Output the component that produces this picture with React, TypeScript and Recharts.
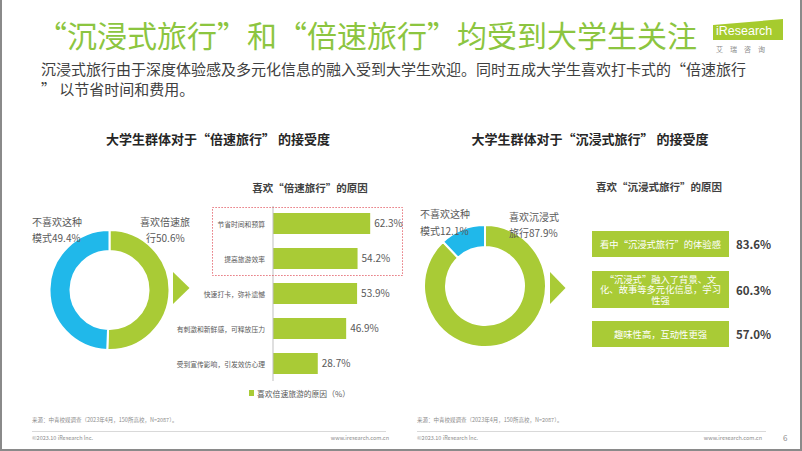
import React from 'react';
import { BarChart, Bar, XAxis, YAxis, LabelList, PieChart, Pie, Cell } from 'recharts';

const speedShare = [
  { name: '喜欢倍速旅行', value: 50.6 },
  { name: '不喜欢这种模式', value: 49.4 },
];
const immersiveShare = [
  { name: '喜欢沉浸式旅行', value: 87.9 },
  { name: '不喜欢这种模式', value: 12.1 },
];
const speedReasons = [
  '节省时间和预算',
  '提高旅游效率',
  '快速打卡，弥补遗憾',
  '有刺激和新鲜感，可释放压力',
  '受到宣传影响，引发效仿心理',
];
const speedValues = [62.3, 54.2, 53.9, 46.9, 28.7];
const immersiveReasons = [
  '看中“沉浸式旅行”的体验感',
  ' “沉浸式”融入了背景、文\n化、故事等多元化信息，学习\n性强',
  '趣味性高，互动性更强',
];
const immersiveValues = [83.6, 60.3, 57.0];

const GREEN = '#A9CB36';
const BLUE = '#20B8EA';
const TITLE_GREEN = '#8CC540';
const FONT = '"Noto Sans CJK SC", "Noto Sans", sans-serif';

const barData = speedReasons.map((r, i) => ({ reason: r, value: speedValues[i] }));

const boxTops = [231, 271, 321];
const boxHeights = [26, 37, 26];

const YTick = (p: any) => (
  <text x={p.x} y={p.y} textAnchor="end" dominantBaseline="central" fontSize={6.8} fill="#595959" fontFamily={FONT}>
    {p.payload.value}
  </text>
);

export default function App() {
  return (
    <div style={{ position: 'absolute', left: 0, top: 0, width: 802, height: 451, background: '#fff', overflow: 'hidden', fontFamily: FONT }}>
      {/* left donut */}
      <div style={{ position: 'absolute', left: 10, top: 210 }}>
        <PieChart width={200} height={160} margin={{ top: 0, right: 0, bottom: 0, left: 0 }}>
          <Pie data={speedShare} dataKey="value" cx={99.5} cy={80} innerRadius={39} outerRadius={60} startAngle={90} endAngle={-270} stroke="#fff" strokeWidth={2} isAnimationActive={false}>
            <Cell fill={GREEN} />
            <Cell fill={BLUE} />
          </Pie>
        </PieChart>
      </div>
      {/* right donut */}
      <div style={{ position: 'absolute', left: 385, top: 206 }}>
        <PieChart width={200} height={160} margin={{ top: 0, right: 0, bottom: 0, left: 0 }}>
          <Pie data={immersiveShare} dataKey="value" cx={100} cy={80} innerRadius={39} outerRadius={61} startAngle={90} endAngle={-270} stroke="#fff" strokeWidth={2} isAnimationActive={false}>
            <Cell fill={GREEN} />
            <Cell fill={BLUE} />
          </Pie>
        </PieChart>
      </div>
      {/* bar chart */}
      <div style={{ position: 'absolute', left: 170, top: 200 }}>
        <BarChart width={259} height={181} data={barData} layout="vertical" margin={{ top: 6, right: 0, bottom: 0, left: 0 }}>
          <XAxis type="number" domain={[0, 100]} hide />
          <YAxis type="category" dataKey="reason" width={103} interval={0} tickLine={false} axisLine={{ stroke: '#BFBFBF' }} tick={<YTick />} />
          <Bar dataKey="value" fill={GREEN} barSize={21} isAnimationActive={false}>
            <LabelList dataKey="value" position="right" offset={4} fontSize={10} fill="#595959" formatter={(v: any) => `${Number(v).toFixed(1)}%`} />
          </Bar>
        </BarChart>
      </div>
      {/* right reason boxes */}
      {immersiveReasons.map((r, i) => (
        <div key={i} style={{ position: 'absolute', left: 592, top: boxTops[i], width: 137, height: boxHeights[i], background: GREEN, color: '#fff', fontSize: 9.3, lineHeight: '10.5px', display: 'flex', alignItems: 'center', justifyContent: 'center', textAlign: 'center', whiteSpace: 'pre-line' }}>
          {r}
        </div>
      ))}
      {immersiveValues.map((v, i) => (
        <div key={'v' + i} style={{ position: 'absolute', left: 736, top: boxTops[i] + boxHeights[i] / 2 - 8, height: 16, lineHeight: '16px', fontSize: 11.5, fontWeight: 700, color: '#404040' }}>
          {v.toFixed(1)}%
        </div>
      ))}
      {/* overlay */}
      <svg width={802} height={451} style={{ position: 'absolute', left: 0, top: 0, pointerEvents: 'none' }} fontFamily={FONT}>
        <text x={37} y={34} fontSize={30} fill={TITLE_GREEN} dominantBaseline="central">“沉浸式旅行”和“倍速旅行”均受到大学生关注</text>
        <text x={41} y={68} fontSize={15} fill="#404040" dominantBaseline="central">沉浸式旅行由于深度体验感及多元化信息的融入受到大学生欢迎。同时五成大学生喜欢打卡式的“倍速旅行</text>
        <text x={41} y={88} fontSize={15} fill="#404040" dominantBaseline="central">” 以节省时间和费用。</text>
        {/* logo */}
        <polygon points="713,25 783,19 783,40 713,40" fill="#A6CB2E" />
        <text x={716} y={31} fontSize={12.5} fill="#fff" fontFamily="'Liberation Sans', Arial, sans-serif" dominantBaseline="central">iResearch</text>
        <text x={716} y={49} fontSize={7} fill="#8c8c8c" dominantBaseline="central">艾　瑞　咨　询</text>

        <text x={218} y={138} fontSize={13} fontWeight={700} fill="#262626" textAnchor="middle" dominantBaseline="central">大学生群体对于“倍速旅行” 的接受度</text>
        <text x={590} y={138} fontSize={13} fontWeight={700} fill="#262626" textAnchor="middle" dominantBaseline="central">大学生群体对于“沉浸式旅行” 的接受度</text>
        <text x={310} y={187} fontSize={10.5} fontWeight={700} fill="#404040" textAnchor="middle" dominantBaseline="central">喜欢“倍速旅行”的原因</text>
        <text x={659} y={186} fontSize={10.5} fontWeight={700} fill="#404040" textAnchor="middle" dominantBaseline="central">喜欢“沉浸式旅行”的原因</text>

        <text x={32} y={221} fontSize={10} fill="#595959" dominantBaseline="central">不喜欢这种</text>
        <text x={32} y={237} fontSize={10} fill="#595959" dominantBaseline="central">模式49.4%</text>
        <text x={140} y={221} fontSize={10} fill="#595959" dominantBaseline="central">喜欢倍速旅</text>
        <text x={146} y={237} fontSize={10} fill="#595959" dominantBaseline="central">行50.6%</text>

        <text x={420} y={213} fontSize={10} fill="#595959" dominantBaseline="central">不喜欢这种</text>
        <text x={420} y={230} fontSize={10} fill="#595959" dominantBaseline="central">模式12.1%</text>
        <text x={509} y={216} fontSize={10} fill="#595959" dominantBaseline="central">喜欢沉浸式</text>
        <text x={509} y={232} fontSize={10} fill="#595959" dominantBaseline="central">旅行87.9%</text>

        <polygon points="173,272 189.5,288 173,304" fill={GREEN} />
        <polygon points="550,272 565.5,288 550,304" fill={GREEN} />

        <rect x={212.5} y={207.5} width={190} height={68} fill="none" stroke="#E0505A" strokeWidth={1} strokeDasharray="1.2 1.8" />

        <rect x={249} y={390} width={5} height={6} fill={GREEN} />
        <text x={257} y={393} fontSize={7.8} fill="#595959" dominantBaseline="central">喜欢倍速旅游的原因（%）</text>

        <text x={32} y={420} fontSize={5.5} fill="#8c8c8c" dominantBaseline="central">来源：中青校媒调查（2023年4月，150所高校，N=2087）。</text>
        <text x={417} y={420} fontSize={5.5} fill="#8c8c8c" dominantBaseline="central">来源：中青校媒调查（2023年4月，150所高校，N=2087）。</text>
        <line x1={32} y1={431.5} x2={386} y2={431.5} stroke="#d9d9d9" strokeWidth={1} />
        <line x1={417} y1={431.5} x2={766} y2={431.5} stroke="#d9d9d9" strokeWidth={1} />
        <text x={32} y={438} fontSize={5.5} fill="#8c8c8c" dominantBaseline="central">©2023.10 iResearch Inc.</text>
        <text x={389} y={438} fontSize={5.5} fill="#8c8c8c" textAnchor="end" dominantBaseline="central">www.iresearch.com.cn</text>
        <text x={417} y={438} fontSize={5.5} fill="#8c8c8c" dominantBaseline="central">©2023.10 iResearch Inc.</text>
        <text x={762} y={438} fontSize={5.5} fill="#8c8c8c" textAnchor="end" dominantBaseline="central">www.iresearch.com.cn</text>
        <text x={783} y={437} fontSize={8} fill="#8c8c8c" dominantBaseline="central">6</text>

        <rect x={0} y={0} width={2} height={451} fill="#8a8a8a" />
        <rect x={800} y={0} width={2} height={451} fill="#8a8a8a" />
        <rect x={0} y={449} width={802} height={2} fill="#8a8a8a" />
      </svg>
    </div>
  );
}
